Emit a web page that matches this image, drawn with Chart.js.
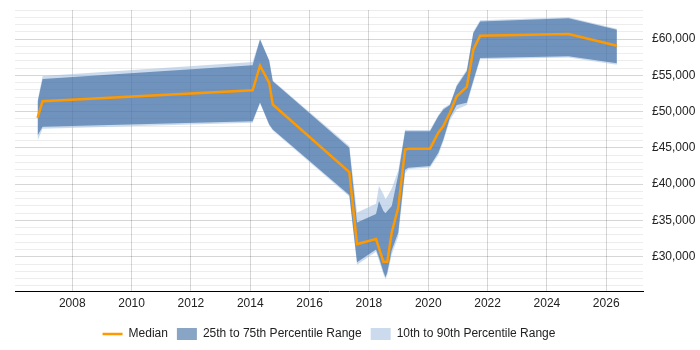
<!DOCTYPE html>
<html>
<head>
<meta charset="utf-8">
<script src="https://cdn.jsdelivr.net/npm/chart.js@4/dist/chart.umd.min.js"></script>
<style>
  body { margin: 0; background: #fff; }
</style>
</head>
<body>
<canvas id="salary-chart" width="700" height="350"></canvas>
<script>
const years = [2006.83, 2007.0, 2014.08, 2014.33, 2014.64, 2014.76, 2017.34, 2017.6, 2018.24, 2018.34,
    2018.49, 2018.56, 2018.62, 2018.77, 2018.99, 2019.22, 2019.33, 2020.06, 2020.34, 2020.51,
    2020.73, 2020.96, 2021.3, 2021.52, 2021.75, 2024.73, 2026.36];
const median = [49150, 51430, 52940, 56330, 53960, 50980, 41680, 31750, 32430, 31200,
    29310, 29310, 29310, 33350, 36780, 44790, 44890, 44890, 47090, 48000,
    49840, 52120, 53400, 58530, 60450, 60690, 59080];
const p75 = [51300, 54500, 56380, 59950, 57020, 54180, 45030, 34730, 35900, 37700,
    36300, 36000, 36300, 37000, 41300, 47310, 47310, 47310, 49370, 50300,
    50900, 53490, 55550, 60820, 62420, 62880, 61280];
const p25 = [46700, 47900, 48680, 51250, 48230, 47540, 38500, 29230, 31000, 29900,
    27900, 27170, 27860, 30900, 33350, 42000, 42280, 42500, 44340, 46170,
    49150, 50900, 51210, 54300, 57390, 57620, 56650];
const p90 = [51500, 54900, 56840, 60050, 57100, 54300, 45250, 36100, 37300, 39750,
    38600, 37930, 38300, 39400, 41900, 47500, 47450, 47450, 49500, 50500,
    51000, 53700, 55800, 61000, 62600, 63000, 61400];
const p10 = [46000, 47650, 48460, 51150, 48100, 47400, 38300, 28900, 30700, 29500,
    27600, 26900, 27500, 30300, 32800, 41500, 42100, 42300, 44000, 45900,
    48800, 50290, 50900, 54000, 57200, 57450, 56450];

const yearTicks = [2008, 2010, 2012, 2014, 2016, 2018, 2020, 2022, 2024, 2026];
const salaryTicks = [30000, 35000, 40000, 45000, 50000, 55000, 60000];

const toPoints = (vals) => vals.map((v, i) => ({ x: years[i], y: v }));

// grid every 1000, labels only on the 5000s
const gridTicks = [];
for (let v = 26000; v <= 64000; v += 1000) gridTicks.push(v);

Chart.defaults.font.family = "'Liberation Sans', Arial, sans-serif";
Chart.defaults.font.size = 12;
Chart.defaults.color = "#222";

const bandLine = { borderWidth: 0, pointRadius: 0, pointHoverRadius: 0, tension: 0 };

new Chart(document.querySelector("#salary-chart").getContext("2d"), {
    type: "line",
    data: {
        datasets: [
            {
                label: "Median",
                data: toPoints(median),
                borderColor: "#ff9900",
                backgroundColor: "#ff9900",
                borderWidth: 2.5,
                pointRadius: 0,
                tension: 0,
                fill: false,
                pointStyle: "line",
            },
            {
                label: "25th to 75th Percentile Range",
                data: toPoints(p75),
                backgroundColor: "rgba(20, 75, 140, 0.5)",
                fill: "+1",
                pointStyle: "rect",
                ...bandLine,
            },
            {
                label: "p25",
                data: toPoints(p25),
                backgroundColor: "rgba(20, 75, 140, 0.5)",
                fill: false,
                ...bandLine,
            },
            {
                label: "10th to 90th Percentile Range",
                data: toPoints(p90),
                backgroundColor: "rgba(160, 190, 222, 0.55)",
                fill: "+1",
                pointStyle: "rect",
                ...bandLine,
            },
            {
                label: "p10",
                data: toPoints(p10),
                backgroundColor: "rgba(160, 190, 222, 0.55)",
                fill: false,
                ...bandLine,
            },
        ],
    },
    options: {
        responsive: false,
        animation: false,
        devicePixelRatio: 1,
        layout: { padding: { left: 15, right: 5, top: 10, bottom: 0 } },
        scales: {
            x: {
                type: "linear",
                min: 2006.07,
                max: 2027.24,
                afterBuildTicks: (scale) => {
                    scale.ticks = yearTicks.map((v) => ({ value: v }));
                },
                afterFit: (scale) => {
                    scale.height += 3;
                },
                ticks: {
                    autoSkip: false,
                    maxRotation: 0,
                    padding: 5,
                    callback: (v) => String(v),
                },
                grid: {
                    color: "rgba(0, 0, 0, 0.16)",
                    drawTicks: false,
                },
                border: { color: "#000", width: 1 },
            },
            y: {
                position: "right",
                min: 25200,
                max: 64000,
                afterBuildTicks: (scale) => {
                    scale.ticks = gridTicks.map((v) => ({ value: v }));
                },
                afterFit: (scale) => {
                    scale.width = 52;
                    scale.paddingTop = 0;
                    scale.paddingBottom = 0;
                },
                ticks: {
                    autoSkip: false,
                    padding: 9,
                    callback: (v) =>
                        salaryTicks.includes(v) ? "£" + v.toLocaleString("en-GB") : "",
                },
                grid: {
                    color: (ctx) =>
                        ctx.tick && ctx.tick.value % 5000 === 0
                            ? "rgba(0, 0, 0, 0.16)"
                            : "rgba(0, 0, 0, 0.07)",
                    drawTicks: false,
                },
                border: { display: false },
            },
        },
        plugins: {
            legend: {
                position: "bottom",
                fullSize: false,
                labels: {
                    usePointStyle: true,
                    pointStyleWidth: 20,
                    boxHeight: 12,
                    padding: 9,
                    filter: (item) => item.text !== "p25" && item.text !== "p10",
                },
            },
            tooltip: { enabled: false },
        },
    },
});
</script>
</body>
</html>
